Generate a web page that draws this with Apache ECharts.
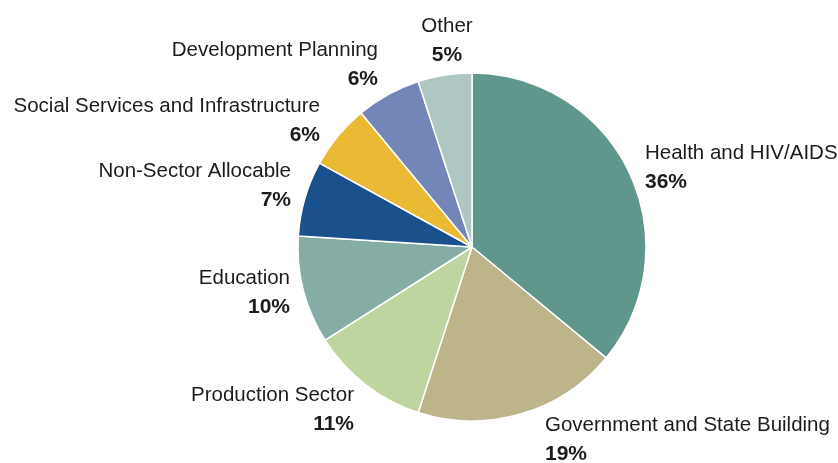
<!DOCTYPE html>
<html>
<head>
<meta charset="utf-8">
<script src="https://cdn.jsdelivr.net/npm/echarts@6/dist/echarts.min.js"></script>
<style>
  html, body { margin: 0; padding: 0; background: #fff; }
  #chart { width: 838px; height: 463px; }
</style>
</head>
<body>
<div id="chart"></div>
<script>
// Sector shares, clockwise from 12 o'clock
const sectors = [
  'Health and HIV/AIDS',
  'Government and State Building',
  'Production Sector',
  'Education',
  'Non-Sector Allocable',
  'Social Services and Infrastructure',
  'Development Planning',
  'Other'
];
const shares = [36, 19, 11, 10, 7, 6, 6, 5];
const sliceColors = [
  '#5f978c', '#bdb48a', '#bed5a0', '#85ada5',
  '#1a508c', '#ebba35', '#7287b7', '#afc7c2'
];

// Where each two-line label sits: anchor point and text alignment
const labelSpots = [
  { x: 645, y: 168, align: 'left' },
  { x: 545, y: 440, align: 'left' },
  { x: 354, y: 410, align: 'right' },
  { x: 290, y: 293, align: 'right' },
  { x: 291, y: 186, align: 'right' },
  { x: 320, y: 121, align: 'right' },
  { x: 378, y: 65,  align: 'right' },
  { x: 447, y: 41,  align: 'center' }
];

const chart = echarts.init(document.getElementById('chart'), null, { renderer: 'canvas' });

const data = sectors.map((name, i) => ({
  name: name,
  value: shares[i],
  itemStyle: { color: sliceColors[i] }
}));

const labelFont = 'Liberation Sans, Arial, sans-serif';

chart.setOption({
  animation: false,
  backgroundColor: '#ffffff',
  series: [{
    type: 'pie',
    center: [472, 247],
    radius: [0, 174],
    startAngle: 90,
    clockwise: true,
    avoidLabelOverlap: false,
    data: data,
    itemStyle: { borderColor: '#ffffff', borderWidth: 1.5 },
    label: {
      show: true,
      position: 'outside',
      formatter: p => '{n|' + p.name + '}\n{p|' + p.value + '%}',
      rich: {
        n: { fontFamily: labelFont, fontSize: 20.5, color: '#1c1c1c', lineHeight: 29 },
        p: { fontFamily: labelFont, fontSize: 21, fontWeight: 'bold', color: '#1c1c1c', lineHeight: 29 }
      }
    },
    labelLine: { show: false },
    labelLayout: params => {
      const s = labelSpots[params.dataIndex];
      return { x: s.x, y: s.y, align: s.align, verticalAlign: 'middle' };
    }
  }]
});
</script>
</body>
</html>
